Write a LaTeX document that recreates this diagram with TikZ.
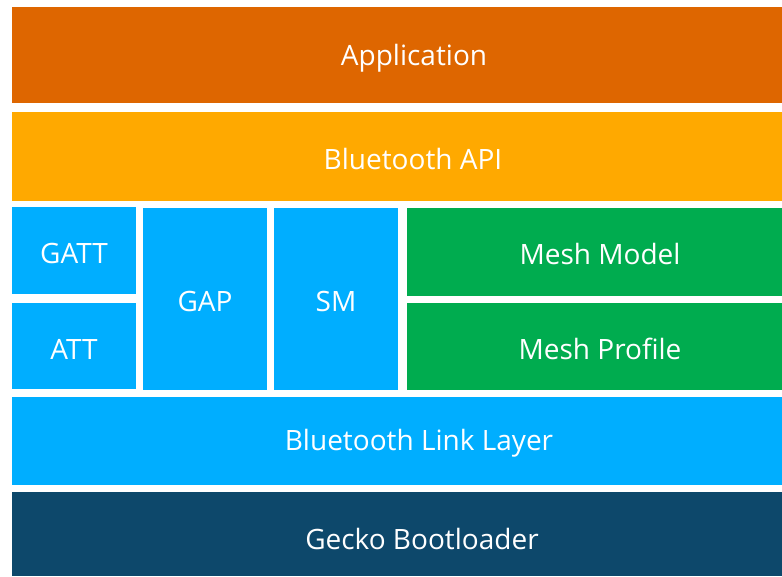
\documentclass[tikz,border=0pt]{standalone}
\usepackage{fontspec}
\setmainfont{Open Sans}
\definecolor{cApp}{RGB}{222,102,0}
\definecolor{cApi}{RGB}{255,169,0}
\definecolor{cBlue}{RGB}{0,174,255}
\definecolor{cGreen}{RGB}{0,172,79}
\definecolor{cDark}{RGB}{13,72,107}
\begin{document}
\begin{tikzpicture}[x=1pt,y=-1pt,
  blk/.style={inner sep=0pt,text=white,font=\fontsize{28}{32}\selectfont,yshift=-2pt}]
\useasboundingbox (0,0) rectangle (782,576);
\fill[cApp] (12,7) rectangle (782,103);
\node[blk] (app) at (414,56) {Application};
\fill[cApi] (12,112) rectangle (782,201);
\node[blk] (api) at (413,157) {Bluetooth API};
\fill[cBlue] (12,207) rectangle (136,294);
\node[blk] (gatt) at (74,251) {GATT};
\fill[cBlue] (12,303) rectangle (136,389);
\node[blk] (att) at (74,347) {ATT};
\fill[cBlue] (143,208) rectangle (267,390);
\node[blk] (gap) at (205,299) {GAP};
\fill[cBlue] (274,208) rectangle (398,390);
\node[blk] (sm) at (336,299) {SM};
\fill[cGreen] (407,208) rectangle (782,296);
\node[blk] (mm) at (600,252) {Mesh Model};
\fill[cGreen] (407,303) rectangle (782,390);
\node[blk] (mp) at (600,347) {Mesh Profile};
\fill[cBlue] (12,397) rectangle (782,485);
\node[blk] (ll) at (419,441) {Bluetooth Link Layer};
\fill[cDark] (12,492) rectangle (782,576);
\node[blk] (gb) at (422,537) {Gecko Bootloader};
\end{tikzpicture}
\end{document}
